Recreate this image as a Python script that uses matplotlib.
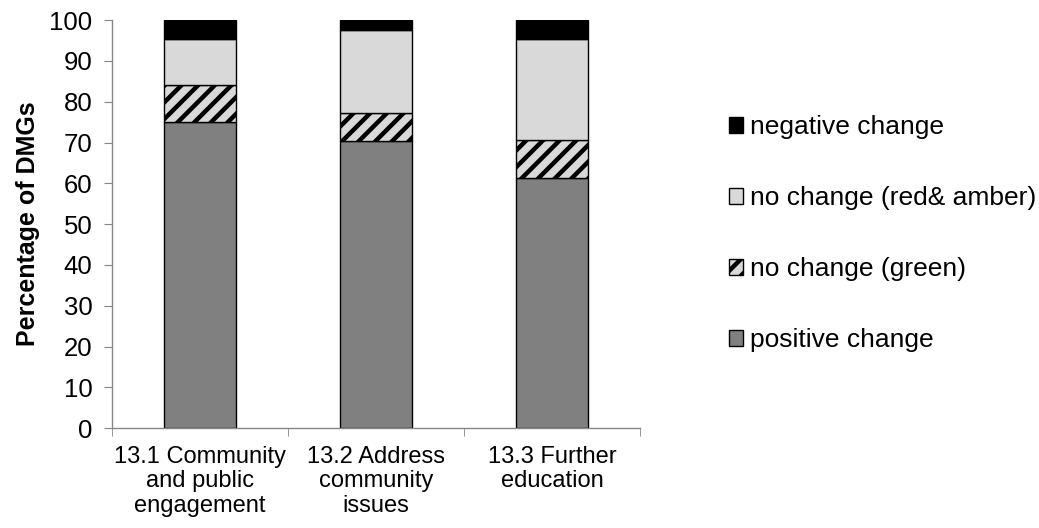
import matplotlib.pyplot as plt
import numpy as np

plt.rcParams['font.family'] = ['Liberation Sans', 'DejaVu Sans']
plt.rcParams['hatch.linewidth'] = 3.2

categories = ['13.1 Community\nand public\nengagement',
              '13.2 Address\ncommunity\nissues',
              '13.3 Further\neducation']
positive = [75.0, 70.4, 61.2]
no_change_green = [9.2, 6.9, 9.4]
no_change_red_amber = [11.1, 20.2, 24.7]
negative = [4.7, 2.5, 4.7]

series = [
    ('positive change', positive, '#808080', None),
    ('no change (green)', no_change_green, '#d9d9d9', '//'),
    ('no change (red& amber)', no_change_red_amber, '#d9d9d9', None),
    ('negative change', negative, '#000000', None),
]

fig = plt.figure(figsize=(10.39, 5.28), dpi=100)
ax = fig.add_axes([0.1078, 0.189, 0.5082, 0.773])

x = np.arange(len(categories))
bottom = np.zeros(len(categories))
handles = []
for label, vals, color, hatch in series:
    b = ax.bar(x, vals, width=0.41, bottom=bottom, color=color,
               edgecolor='black', linewidth=1.0, hatch=hatch, label=label)
    handles.append(b)
    bottom += np.array(vals)

ax.set_xlim(-0.5, 2.5)
ax.set_ylim(0, 100)
ax.set_yticks(range(0, 101, 10))
ax.set_xticks(x)
ax.set_xticklabels(categories, fontsize=17, linespacing=1.13)
ax.tick_params(axis='y', labelsize=18.5, length=6, color='#868686', pad=8)
ax.tick_params(axis='x', length=0, pad=13)
# category boundary ticks on the x axis
ax.set_xticks([-0.5, 0.5, 1.5, 2.5], minor=True)
ax.tick_params(axis='x', which='minor', length=6, color='#868686')

for s in ['top', 'right']:
    ax.spines[s].set_visible(False)
for s in ['left', 'bottom']:
    ax.spines[s].set_color('#868686')
    ax.spines[s].set_linewidth(1.0)

ax.set_ylabel('Percentage of DMGs', fontsize=18, fontweight='bold', labelpad=7)

fig.legend(handles[::-1], [h.get_label() for h in handles[::-1]],
           loc='center left', bbox_to_anchor=(0.679, 0.557), frameon=False,
           fontsize=19, handlelength=0.53, handleheight=0.53,
           handletextpad=0.25, labelspacing=1.78)

fig.savefig('out.png', dpi=100)
